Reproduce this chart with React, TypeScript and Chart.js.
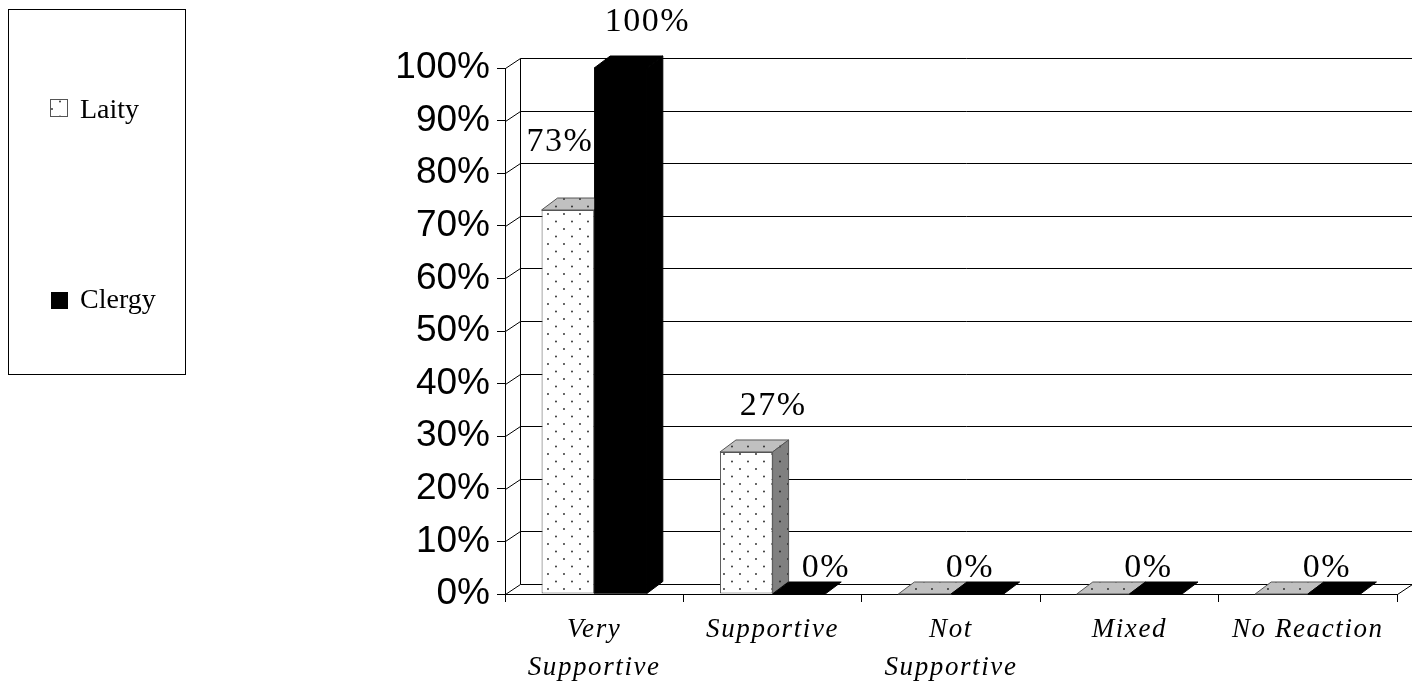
import React, { useEffect, useRef } from "react";
import { Chart, registerables } from "chart.js";

Chart.register(...registerables);

const categories: (string | string[])[] = [
  ["Very", "Supportive"],
  "Supportive",
  ["Not", "Supportive"],
  "Mixed",
  "No Reaction",
];
const seriesNames = ["Laity", "Clergy"];
const laityValues = [73, 27, 0, 0, 0];
const clergyValues = [100, 0, 0, 0, 0];
const yTickValues = [0, 10, 20, 30, 40, 50, 60, 70, 80, 90, 100];

const SERIF = '"Liberation Serif", "Times New Roman", Tinos, Times, serif';
const fmt = (v: number) => `${v}%`;

function makeDotPattern(ctx: CanvasRenderingContext2D, bg: string): CanvasPattern {
  const c = document.createElement("canvas");
  c.width = 16;
  c.height = 15;
  const g = c.getContext("2d")!;
  g.fillStyle = bg;
  g.fillRect(0, 0, 16, 15);
  g.fillStyle = "#222";
  g.beginPath();
  g.arc(4, 4, 0.9, 0, Math.PI * 2);
  g.arc(12, 11.5, 0.9, 0, Math.PI * 2);
  g.fill();
  return ctx.createPattern(c, "repeat")!;
}

export default function App() {
  const ref = useRef<HTMLCanvasElement | null>(null);

  useEffect(() => {
    document.body.style.margin = "0";
    const canvas = ref.current!;
    const ctx0 = canvas.getContext("2d")!;
    const frontPat = makeDotPattern(ctx0, "#ffffff");
    const topPat = makeDotPattern(ctx0, "#c0c0c0");
    const sidePat = makeDotPattern(ctx0, "#808080");

    const BDX = 16, BDY = 12; // bar depth
    const WDX = 15, WDY = 10; // wall depth

    const poly = (ctx: CanvasRenderingContext2D, pts: number[][], fill: any, stroke: string) => {
      ctx.beginPath();
      ctx.moveTo(pts[0][0], pts[0][1]);
      for (let k = 1; k < pts.length; k++) ctx.lineTo(pts[k][0], pts[k][1]);
      ctx.closePath();
      ctx.fillStyle = fill;
      ctx.fill();
      ctx.strokeStyle = stroke;
      ctx.lineWidth = 1;
      ctx.stroke();
    };

    const threeD = {
      id: "threeD",
      beforeDraw(chart: any) {
        const ctx = chart.ctx;
        ctx.save();
        ctx.letterSpacing = "0px";
        ctx.fillStyle = "#fff";
        ctx.fillRect(0, 0, chart.width, chart.height);
        ctx.restore();
        ctx.letterSpacing = "0px";
      },
      beforeDatasetsDraw(chart: any) {
        const ctx = chart.ctx;
        const { left, right, bottom } = chart.chartArea;
        const ys = chart.scales.y;
        ctx.save();
        ctx.strokeStyle = "#000";
        ctx.lineWidth = 1;
        ctx.beginPath();
        for (const v of yTickValues) {
          const y = Math.round(ys.getPixelForValue(v)) + 0.5;
          ctx.moveTo(left + 0.5, y);
          ctx.lineTo(left + WDX + 0.5, y - WDY);
          ctx.moveTo(left + WDX + 0.5, y - WDY);
          ctx.lineTo(right + WDX + 2, y - WDY);
        }
        const yt = Math.round(ys.getPixelForValue(100)) + 0.5;
        const yb = Math.round(ys.getPixelForValue(0)) + 0.5;
        ctx.moveTo(left + WDX + 0.5, yt - WDY);
        ctx.lineTo(left + WDX + 0.5, yb - WDY);
        ctx.moveTo(right + 0.5, bottom + 0.5);
        ctx.lineTo(right + WDX + 0.5, bottom + 0.5 - WDY);
        ctx.stroke();
        ctx.restore();
      },
      afterDatasetsDraw(chart: any) {
        const ctx = chart.ctx;
        const mL = chart.getDatasetMeta(0).data;
        const mC = chart.getDatasetMeta(1).data;
        ctx.save();
        for (let i = 0; i < categories.length; i++) {
          const a = mL[i].getProps(["x", "y", "base", "width"], true);
          const b = mC[i].getProps(["x", "y", "base", "width"], true);
          {
            const x0 = a.x - a.width / 2, x1 = a.x + a.width / 2;
            poly(ctx, [[x0, a.y], [x0 + BDX, a.y - BDY], [x1 + BDX, a.y - BDY], [x1, a.y]], topPat, "#555");
            if (a.base - a.y > 0.5) {
              poly(ctx, [[x1, a.y], [x1 + BDX, a.y - BDY], [x1 + BDX, a.base - BDY], [x1, a.base]], sidePat, "#555");
            }
          }
          {
            const x0 = b.x - b.width / 2, x1 = b.x + b.width / 2;
            ctx.fillStyle = "#000";
            ctx.fillRect(x0, b.y, b.width, b.base - b.y);
            poly(ctx, [[x0, b.y], [x0 + BDX, b.y - BDY], [x1 + BDX, b.y - BDY], [x1, b.y]], "#000", "#000");
            if (b.base - b.y > 0.5) {
              poly(ctx, [[x1, b.y], [x1 + BDX, b.y - BDY], [x1 + BDX, b.base - BDY], [x1, b.base]], "#000", "#000");
            }
          }
        }
        ctx.font = `34px ${SERIF}`;
        ctx.letterSpacing = "1.5px";
        ctx.textAlign = "center";
        ctx.textBaseline = "alphabetic";
        ctx.fillStyle = "#000";
        for (let i = 0; i < categories.length; i++) {
          const a = mL[i].getProps(["x", "y", "base", "width"], true);
          const b = mC[i].getProps(["x", "y", "base", "width"], true);
          const va = laityValues[i], vb = clergyValues[i];
          if (va === 0 && vb === 0) {
            ctx.fillText(fmt(0), (a.x + b.x) / 2 + 19, a.base - 17);
            continue;
          }
          const items = [
            { el: a, v: va, other: vb, first: true },
            { el: b, v: vb, other: va, first: false },
          ];
          for (const it of items) {
            const txt = fmt(it.v);
            let cx = it.el.x + 27;
            let by = it.v === 0 ? it.el.base - 17 : it.el.y - 37;
            const w = ctx.measureText(txt).width;
            if (it.first && it.other > it.v) {
              const limit = b.x - b.width / 2 - 1;
              if (cx + w / 2 > limit) {
                cx = limit - w / 2;
                by -= 22;
              }
            }
            ctx.fillText(txt, cx, by);
          }
        }
        ctx.restore();
        ctx.letterSpacing = "1.6px";
      },
      afterDraw(chart: any) {
        const ctx = chart.ctx;
        ctx.letterSpacing = "0px";
        ctx.save();
        ctx.strokeStyle = "#000";
        ctx.lineWidth = 1;
        ctx.strokeRect(8.5, 9.5, 177, 365);
        ctx.fillStyle = frontPat;
        ctx.fillRect(50, 99, 17, 17);
        ctx.strokeStyle = "#555";
        ctx.strokeRect(50.5, 99.5, 17, 17);
        ctx.fillStyle = "#000";
        ctx.fillRect(51, 292, 17, 17);
        ctx.font = `28px ${SERIF}`;
        ctx.textAlign = "left";
        ctx.textBaseline = "alphabetic";
        ctx.fillStyle = "#000";
        ctx.fillText(seriesNames[0], 80, 118);
        ctx.fillText(seriesNames[1], 80, 308);
        ctx.restore();
      },
    };

    const chart = new Chart(canvas, {
      type: "bar",
      data: {
        labels: categories as any,
        datasets: [
          {
            label: seriesNames[0],
            data: laityValues,
            backgroundColor: frontPat as any,
            borderColor: "#555",
            borderWidth: 1,
            borderSkipped: false,
          },
          {
            label: seriesNames[1],
            data: clergyValues,
            backgroundColor: "#000",
            borderColor: "#000",
            borderWidth: 0,
          },
        ],
      },
      options: {
        responsive: false,
        animation: false,
        devicePixelRatio: 1,
        layout: { padding: { left: 0, top: 68, right: 15, bottom: 0 } },
        datasets: { bar: { categoryPercentage: 0.59, barPercentage: 1 } },
        plugins: { legend: { display: false }, tooltip: { enabled: false } },
        scales: {
          x: {
            grid: { display: true, drawOnChartArea: false, drawTicks: true, tickLength: 8, color: "#000", offset: true },
            border: { display: true, color: "#000", width: 1 },
            ticks: {
              font: { family: SERIF, size: 27, style: "italic", lineHeight: 1.4 },
              color: "#000",
              padding: 9,
              maxRotation: 0,
              minRotation: 0,
              autoSkip: false,
              z: 1,
            },
            afterFit: (s: any) => {
              s.height = 90;
            },
          },
          y: {
            min: 0,
            max: 100,
            afterBuildTicks: (s: any) => {
              s.ticks = yTickValues.map((v) => ({ value: v }));
            },
            ticks: {
              callback: (v: any) => fmt(Number(v)),
              font: { family: '"Liberation Sans", Arial, sans-serif', size: 37 },
              color: "#000",
              padding: 7,
            },
            grid: { drawOnChartArea: false, drawTicks: true, tickLength: 8, color: "#000" },
            border: { display: true, color: "#000", width: 1 },
            afterFit: (s: any) => {
              s.width = 505;
            },
          },
        },
      },
      plugins: [threeD],
    });
    return () => chart.destroy();
  }, []);

  return (
    <div style={{ width: 1412, height: 684, position: "relative", background: "#fff" }}>
      <canvas ref={ref} width={1412} height={684} style={{ display: "block" }} />
    </div>
  );
}
